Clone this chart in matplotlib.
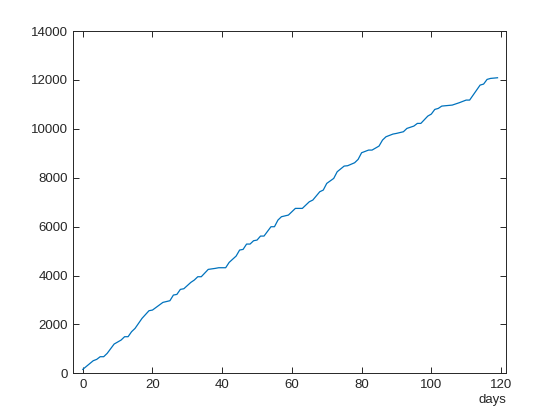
import matplotlib
matplotlib.use("Agg")
import matplotlib.pyplot as plt

days = [0, 3, 4, 5, 6, 7, 9, 11, 12, 13, 14, 15, 17, 19, 20, 23, 25, 26, 27, 28, 29,
        31, 32, 33, 34, 36, 38, 39, 41, 42, 44, 45, 46, 47, 48, 49, 50, 51, 52, 54,
        55, 56, 57, 59, 61, 63, 65, 66, 68, 69, 70, 72, 73, 75, 76, 78, 79, 80, 82,
        83, 85, 86, 87, 89, 90, 92, 93, 95, 96, 97, 99, 100, 101, 102, 103, 104, 106,
        108, 110, 111, 112, 114, 115, 116, 117, 119]
values = [164, 518, 573, 682, 682, 818, 1200, 1363, 1500, 1500, 1704, 1840, 2250,
          2563, 2590, 2904, 2972, 3203, 3230, 3435, 3462, 3721, 3817, 3953, 3953,
          4253, 4294, 4321, 4321, 4539, 4798, 5044, 5071, 5289, 5289, 5425, 5452,
          5616, 5616, 5998, 5998, 6270, 6407, 6475, 6748, 6748, 7020, 7088, 7429,
          7497, 7770, 7974, 8247, 8479, 8493, 8615, 8752, 9024, 9133, 9133, 9297,
          9542, 9678, 9788, 9815, 9883, 10019, 10115, 10224, 10224, 10524, 10605,
          10796, 10837, 10932, 10946, 10973, 11069, 11178, 11178, 11382, 11791,
          11832, 12023, 12064, 12091]
xticks = [0, 20, 40, 60, 80, 100, 120]
yticks = [0, 2000, 4000, 6000, 8000, 10000, 12000, 14000]

plt.rcParams['font.family'] = ['Liberation Sans', 'DejaVu Sans']
fig = plt.figure(figsize=(5.6, 4.2), dpi=100)
ax = fig.add_axes([0.131, 0.111, 0.773, 0.815])
ax.plot(days, values, color='#0072BD', linewidth=0.9)
ax.set_xlim(-2.7, 121.5)
ax.set_ylim(0, 14000)
ax.set_xticks(xticks)
ax.set_yticks(yticks)
for s in ax.spines.values():
    s.set_color('#262626')
    s.set_linewidth(0.7)
ax.tick_params(direction='in', top=True, right=True, length=4, width=0.7,
               colors='#262626', labelsize=9.5, pad=4)
ax.set_xlabel('days', loc='right', fontsize=9.5, color='#262626', labelpad=2)
fig.savefig('out.png', dpi=100)
